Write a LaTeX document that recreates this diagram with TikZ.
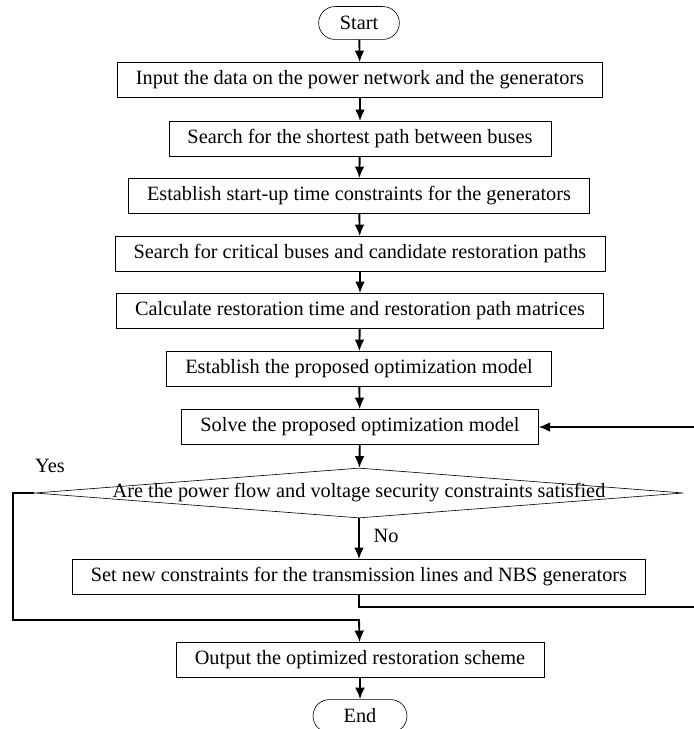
\documentclass[tikz,border=0pt]{standalone}
\usepackage{fontspec}
\setmainfont{Liberation Serif}
\usetikzlibrary{
    arrows.meta,
    shapes,
    shapes.misc,
    shapes.geometric
}

\begin{document}
\begin{tikzpicture}[x=0.0225cm, y=-0.0225cm,
    stepbox/.style={draw, thin, minimum height=0.79cm, inner xsep=0.42cm, font=\fontsize{13}{15}\selectfont},
    terminal/.style={draw, thin, rounded rectangle, minimum height=0.74cm, minimum width=2.05cm, font=\fontsize{13}{15}\selectfont},
    flow/.style={->, >={Latex[length=2.6mm, width=2.2mm]}, line width=1.2pt}]
            \useasboundingbox (0,0) rectangle (693,729);

            \node[terminal] (start) at (359, 23) {Start};
            \node[stepbox] (data) at (360, 80) {Input the data on the power network and the generators};
            \node[stepbox] (shortest) at (360,139) {Search for the shortest path between buses};
            \node[stepbox] (startup) at (359,196) {Establish start-up time constraints for the generators};
            \node[stepbox] (critical) at (360,254) {Search for critical buses and candidate restoration paths};
            \node[stepbox] (timemat) at (360,311) {Calculate restoration time and restoration path matrices};
            \node[stepbox] (model) at (359,369) {Establish the proposed optimization model};
            \node[stepbox] (solve) at (360,427) {Solve the proposed optimization model};
            \node[draw, thin, diamond, minimum width=14.6cm, minimum height=1.125cm, inner sep=0pt,
                  label={[font=\fontsize{13}{15}\selectfont]center:Are the power flow and voltage security constraints satisfied}] (check) at (359,493) {};
            \node[stepbox] (newcon) at (359,577) {Set new constraints for the transmission lines and NBS generators};
            \node[stepbox] (output) at (360,660) {Output the optimized restoration scheme};
            \node[terminal, minimum width=2.35cm] (end) at (360,716) {End};

            \draw[flow] (start)--(data);
            \draw[flow] (data)--(shortest);
            \draw[flow] (shortest)--(startup);
            \draw[flow] (startup)--(critical);
            \draw[flow] (critical)--(timemat);
            \draw[flow] (timemat)--(model);
            \draw[flow] (model)--(solve);
            \draw[flow] (solve)--(check);
            \draw[flow] (check)--(newcon);
            \draw[flow] (output)--(end);

            % Yes branch
            \coordinate (yesleft) at (13,493);
            \coordinate (yesjoin) at (359,620);
            \draw[flow] (check.west)--(yesleft) |- (yesjoin)--(output);

            % No branch back to the solver
            \coordinate (noright) at (700,607);
            \draw[flow] (newcon.south) |- (noright) |- (solve.east);

            \node[font=\fontsize{13}{15}\selectfont] (yes) at (50,466) {Yes};
            \node[font=\fontsize{13}{15}\selectfont] (no) at (386,536) {No};
\end{tikzpicture}
\end{document}
